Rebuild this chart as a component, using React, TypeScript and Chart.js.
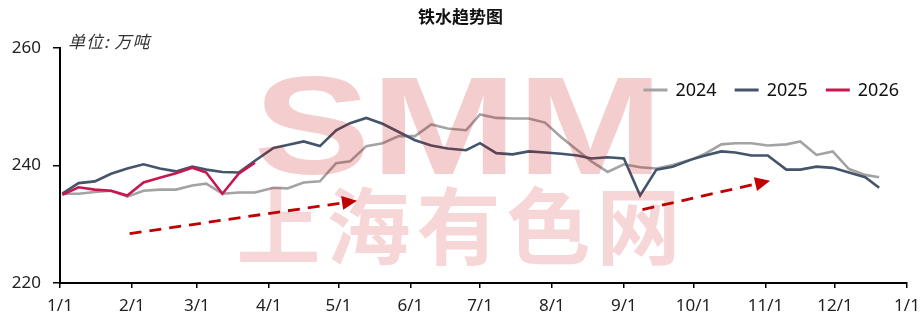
import React, { useEffect, useRef } from 'react';
import { Chart, registerables } from 'chart.js';

Chart.register(...registerables);

// ---- data ----
const titleText = '铁水趋势图';
const unitText = '单位: 万吨';
const seriesNames = ['2024', '2025', '2026'];
const seriesColors = ['#A3A3A3', '#44546A', '#C8174F'];

const monthStartDays = [0, 31, 59, 90, 120, 151, 181, 212, 243, 273, 304, 334, 365];
const monthLabels = ['1/1', '2/1', '3/1', '4/1', '5/1', '6/1', '7/1', '8/1', '9/1', '10/1', '11/1', '12/1', '1/1'];
const yTicks = [220, 240, 260];

// day of year of each weekly reading
const weekDays = [
  1, 8, 15, 22, 29, 36, 43, 50, 57, 63, 70, 77, 84, 92, 98, 105, 112, 119, 125, 132,
  139, 146, 153, 160, 167, 175, 181, 188, 195, 202, 209, 216, 223, 229, 236, 243, 250, 257, 264, 272,
  278, 285, 291, 298, 305, 313, 319, 326, 333, 340, 347, 353,
];

const series2024 = [
  235.2, 235.2, 235.5, 235.7, 234.7, 235.7, 235.9, 235.9, 236.6, 236.9, 235.2, 235.4, 235.4, 236.2, 236.1, 237.1, 237.3, 240.4, 240.7, 243.3,
  243.8, 245.0, 245.0, 247.0, 246.3, 246.0, 248.7, 248.1, 248.0, 248.0, 247.3, 244.8, 242.6, 240.7, 238.9, 240.2, 239.7, 239.5, 240.1, 241.0,
  242.0, 243.6, 243.8, 243.8, 243.4, 243.6, 244.1, 241.8, 242.4, 239.4, 238.4, 238.0,
];
const series2025 = [
  235.2, 237.0, 237.3, 238.6, 239.5, 240.2, 239.5, 239.0, 239.8, 239.3, 238.9, 238.8, 240.8, 243.0, 243.5, 244.1, 243.3, 246.0, 247.2, 248.1,
  247.1, 245.7, 244.3, 243.4, 242.9, 242.6, 243.8, 242.1, 241.9, 242.4, 242.2, 242.0, 241.7, 241.2, 241.4, 241.2, 234.9, 239.3, 239.8, 241.0,
  241.7, 242.4, 242.2, 241.7, 241.7, 239.3, 239.3, 239.8, 239.6, 238.8, 238.0, 236.2,
];
const series2026 = [235.0, 236.3, 235.9, 235.7, 234.9, 237.1, 237.9, 238.7, 239.6, 238.8, 235.2, 238.6, 240.5];

const watermarkLatin = 'SMM';
const watermarkCJK = '上海有色网';

// trend arrows in data units: [day, value]
const arrowStarts = [[30, 228.4], [251, 232.5]];
const arrowEnds = [[128, 234.0], [306, 237.4]];

const toPoints = (vals: number[]) => vals.map((v, i) => ({ x: weekDays[i], y: v }));

const watermarkPlugin = {
  id: 'watermark',
  afterDatasetsDraw(chart: any) {
    const ctx = chart.ctx;
    const cx = chart.width / 2 - 2;
    ctx.save();
    ctx.fillStyle = 'rgba(200, 10, 10, 0.2)';
    ctx.font = "bold 140px 'Liberation Sans', Arial, sans-serif";
    ctx.textAlign = 'center';
    ctx.textBaseline = 'alphabetic';
    const w = ctx.measureText(watermarkLatin).width;
    ctx.translate(cx, 174);
    ctx.scale(410 / w, 1);
    ctx.fillText(watermarkLatin, 0, 0);
    ctx.restore();

    ctx.save();
    ctx.fillStyle = 'rgba(200, 10, 10, 0.17)';
    ctx.font = "bold 84px 'Noto Sans CJK SC', sans-serif";
    ctx.textAlign = 'center';
    ctx.textBaseline = 'middle';
    const chars = Array.from(watermarkCJK);
    const span = 450;
    const step = span / chars.length;
    const x0 = cx - span / 2 + step / 2;
    chars.forEach((c, i) => ctx.fillText(c, x0 + i * step, 226));
    ctx.restore();
  },
};

const overlayPlugin = {
  id: 'overlay',
  afterDraw(chart: any) {
    const ctx = chart.ctx;
    const xs = chart.scales.x;
    const ys = chart.scales.y;
    const area = chart.chartArea;

    // arrows
    ctx.save();
    ctx.strokeStyle = '#C00000';
    ctx.fillStyle = '#C00000';
    ctx.lineWidth = 2.8;
    arrowStarts.forEach((s, i) => {
      const e = arrowEnds[i];
      const x1 = xs.getPixelForValue(s[0]);
      const y1 = ys.getPixelForValue(s[1]);
      const x2 = xs.getPixelForValue(e[0]);
      const y2 = ys.getPixelForValue(e[1]);
      const ang = Math.atan2(y2 - y1, x2 - x1);
      const headL = 15;
      const headW = 7;
      const bx = x2 - Math.cos(ang) * headL;
      const by = y2 - Math.sin(ang) * headL;
      ctx.setLineDash([12, 8]);
      ctx.beginPath();
      ctx.moveTo(x1, y1);
      ctx.lineTo(bx, by);
      ctx.stroke();
      ctx.setLineDash([]);
      ctx.beginPath();
      ctx.moveTo(x2, y2);
      ctx.lineTo(bx + Math.sin(ang) * headW, by - Math.cos(ang) * headW);
      ctx.lineTo(bx - Math.sin(ang) * headW, by + Math.cos(ang) * headW);
      ctx.closePath();
      ctx.fill();
    });
    ctx.restore();

    // title
    ctx.save();
    ctx.fillStyle = '#111';
    ctx.font = "bold 17px 'Noto Sans CJK SC', sans-serif";
    ctx.textAlign = 'center';
    ctx.textBaseline = 'middle';
    ctx.fillText(titleText, chart.width / 2, 17);
    ctx.font = "italic 17px 'Noto Sans CJK SC', sans-serif";
    ctx.textAlign = 'left';
    ctx.fillStyle = '#333';
    try {
      (ctx as any).letterSpacing = '1px';
    } catch (e) {}
    ctx.fillText(unitText, area.left + 8, 42);
    ctx.restore();

    // legend
    ctx.save();
    ctx.font = "18px 'Noto Sans', sans-serif";
    ctx.textBaseline = 'middle';
    ctx.textAlign = 'left';
    const lineLen = 24;
    const gapLT = 8;
    const gapItem = 18;
    const widths = seriesNames.map((n) => ctx.measureText(n).width);
    const total = widths.reduce((a, b) => a + b + lineLen + gapLT, 0) + gapItem * (seriesNames.length - 1);
    let x = area.right - 8 - total;
    const ly = area.top + 42;
    seriesNames.forEach((n, i) => {
      ctx.strokeStyle = seriesColors[i];
      ctx.lineWidth = 3;
      ctx.beginPath();
      ctx.moveTo(x, ly);
      ctx.lineTo(x + lineLen, ly);
      ctx.stroke();
      ctx.fillStyle = '#111';
      ctx.fillText(n, x + lineLen + gapLT, ly + 1);
      x += lineLen + gapLT + widths[i] + gapItem;
    });
    ctx.restore();
  },
};

export default function App() {
  const ref = useRef<HTMLCanvasElement | null>(null);
  useEffect(() => {
    document.body.style.margin = '0';
    const canvas = ref.current;
    if (!canvas) return;
    const datasets = [series2024, series2025, series2026].map((vals, i) => ({
      label: seriesNames[i],
      data: toPoints(vals),
      borderColor: seriesColors[i],
      backgroundColor: seriesColors[i],
      borderWidth: 2.6,
      pointRadius: 0,
      tension: 0,
      fill: false,
      order: 3 - i,
    }));
    const chart = new Chart(canvas, {
      type: 'line',
      data: { datasets },
      options: {
        responsive: false,
        animation: false,
        layout: { padding: { left: 0, top: 48, right: 14, bottom: 0 } },
        plugins: { legend: { display: false }, tooltip: { enabled: false }, title: { display: false } },
        scales: {
          x: {
            type: 'linear',
            min: 0,
            max: 365,
            afterBuildTicks: (scale: any) => {
              scale.ticks = monthStartDays.map((v) => ({ value: v }));
            },
            afterFit: (scale: any) => {
              scale.height = 44;
              scale.paddingLeft = 0;
              scale.paddingRight = 0;
            },
            ticks: {
              autoSkip: false,
              maxRotation: 0,
              padding: 8,
              color: '#222',
              font: { family: "'Liberation Sans Narrow', 'Noto Sans', sans-serif", size: 17 },
              callback: (_v: any, idx: number) => monthLabels[idx],
            },
            grid: { display: true, drawOnChartArea: false, drawTicks: true, tickLength: 5, color: '#000', lineWidth: 1.5 },
            border: { display: true, color: '#000', width: 2 },
          },
          y: {
            min: 220,
            max: 260,
            afterBuildTicks: (scale: any) => {
              scale.ticks = yTicks.map((v) => ({ value: v }));
            },
            afterFit: (scale: any) => {
              scale.width = 60;
              scale.paddingTop = 0;
              scale.paddingBottom = 0;
            },
            ticks: {
              padding: 12,
              color: '#222',
              font: { family: "'Noto Sans', sans-serif", size: 17 },
            },
            grid: { display: true, drawOnChartArea: false, drawTicks: true, tickLength: 7, color: '#000', lineWidth: 1.5 },
            border: { display: true, color: '#000', width: 2 },
          },
        },
      },
      plugins: [watermarkPlugin, overlayPlugin],
    });
    return () => chart.destroy();
  }, []);
  return (
    <div style={{ position: 'absolute', left: 0, top: 0, width: 921, height: 327, background: '#fff' }}>
      <canvas ref={ref} width={921} height={327} style={{ display: 'block', width: 921, height: 327 }} />
    </div>
  );
}
